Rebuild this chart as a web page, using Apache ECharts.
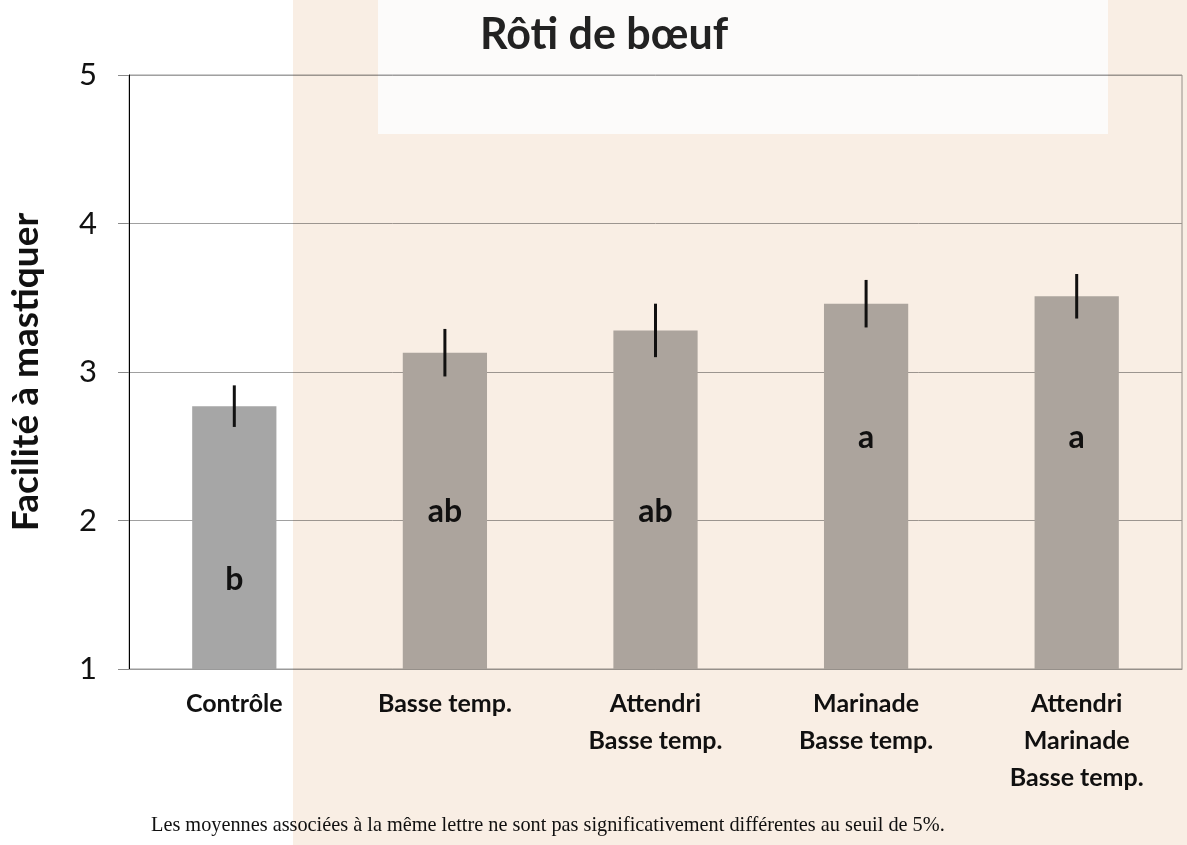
<!DOCTYPE html>
<html>
<head>
<meta charset="utf-8">
<script src="https://cdn.jsdelivr.net/npm/echarts@6/dist/echarts.min.js"></script>
<style>
  html, body { margin: 0; padding: 0; background: #fff; }
  #chart { width: 1187px; height: 845px; }
</style>
</head>
<body>
<div id="chart"></div>
<script>
// données du graphique
var categories = ['Contrôle', 'Basse temp.', 'Attendri\nBasse temp.', 'Marinade\nBasse temp.', 'Attendri\nMarinade\nBasse temp.'];
var moyennes = [2.77, 3.13, 3.28, 3.46, 3.51];
var erreurs = [0.14, 0.16, 0.18, 0.16, 0.15];
var lettres = ['b', 'ab', 'ab', 'a', 'a'];
var lettresY = [1.60, 2.06, 2.06, 2.56, 2.56];
var yTicks = [1, 2, 3, 4, 5];
var couleurs = ['#a6a6a6', '#b0b0b0', '#b0b0b0', '#b0b0b0', '#b0b0b0'];

var chart = echarts.init(document.getElementById('chart'));

var option = {
    backgroundColor: '#ffffff',
    animation: false,
    title: {
        text: 'Rôti de bœuf',
        left: 599,
        textAlign: 'center',
        top: 9,
        textStyle: { fontFamily: 'Lato', fontWeight: 'bold', fontSize: 43, color: '#222' }
    },
    grid: {
        left: 129, right: 5, top: 75, bottom: 176,
        outerBoundsMode: 'none',
        containLabel: false,
        show: true, borderColor: '#9a9a9a', borderWidth: 1
    },
    xAxis: {
        type: 'category',
        data: categories,
        axisLine: { lineStyle: { color: '#9a9a9a', width: 1 } },
        axisTick: { show: false },
        axisLabel: {
            fontFamily: 'Lato', fontWeight: 'bold', fontSize: 25, color: '#111',
            lineHeight: 37, margin: 16, interval: 0
        }
    },
    yAxis: {
        type: 'value',
        min: yTicks[0], max: yTicks[yTicks.length - 1], interval: 1,
        name: 'Facilité à mastiquer',
        nameLocation: 'middle',
        nameGap: 84,
        nameTextStyle: { fontFamily: 'Lato', fontWeight: 'bold', fontSize: 37, color: '#111' },
        axisLine: { show: true, lineStyle: { color: '#000', width: 1 } },
        axisTick: { show: true, inside: false, length: 11, lineStyle: { color: '#8a8a8a' } },
        axisLabel: { fontFamily: 'Lato', fontSize: 31, color: '#111', margin: 32 },
        splitLine: { lineStyle: { color: '#a0a0a0', width: 1 } }
    },
    series: [
        {
            type: 'bar',
            data: moyennes.map(function (m, i) { return { value: m, itemStyle: { color: couleurs[i] } }; }),
            barWidth: '40%',
            z: 2
        },
        {
            // barres d'erreur
            type: 'custom',
            data: moyennes.map(function (m, i) { return [i, m - erreurs[i], m + erreurs[i]]; }),
            renderItem: function (params, api) {
                var bas = api.coord([api.value(0), api.value(1)]);
                var haut = api.coord([api.value(0), api.value(2)]);
                return {
                    type: 'line',
                    shape: { x1: bas[0], y1: bas[1], x2: haut[0], y2: haut[1] },
                    style: { stroke: '#111', lineWidth: 3 }
                };
            },
            z: 3
        },
        {
            // lettres de significativité
            type: 'custom',
            data: lettres.map(function (l, i) { return [i, lettresY[i]]; }),
            renderItem: function (params, api) {
                var p = api.coord([api.value(0), api.value(1)]);
                return {
                    type: 'text',
                    x: p[0], y: p[1],
                    style: {
                        text: lettres[params.dataIndex],
                        fontFamily: 'Lato', fontWeight: 'bold', fontSize: 32,
                        fill: '#111', align: 'center', verticalAlign: 'middle'
                    }
                };
            },
            z: 4
        }
    ],
    graphic: [
        {
            type: 'text',
            left: 151, top: 816,
            style: {
                text: 'Les moyennes associées à la même lettre ne sont pas significativement différentes au seuil de 5%.',
                fontFamily: 'Liberation Serif', fontSize: 20.3, fill: '#111'
            }
        },
        // fond décoratif beige (en multiplication)
        { type: 'rect', shape: { x: 293, y: 0, width: 85, height: 845 }, style: { fill: '#f9eee4', blend: 'multiply' }, z: 100, silent: true },
        { type: 'rect', shape: { x: 1108, y: 0, width: 79, height: 845 }, style: { fill: '#f9eee4', blend: 'multiply' }, z: 100, silent: true },
        { type: 'rect', shape: { x: 378, y: 134, width: 730, height: 711 }, style: { fill: '#f9eee4', blend: 'multiply' }, z: 100, silent: true },
        { type: 'rect', shape: { x: 378, y: 0, width: 730, height: 134 }, style: { fill: '#fcfbfa', blend: 'multiply' }, z: 100, silent: true }
    ]
};

chart.setOption(option);
</script>
</body>
</html>
